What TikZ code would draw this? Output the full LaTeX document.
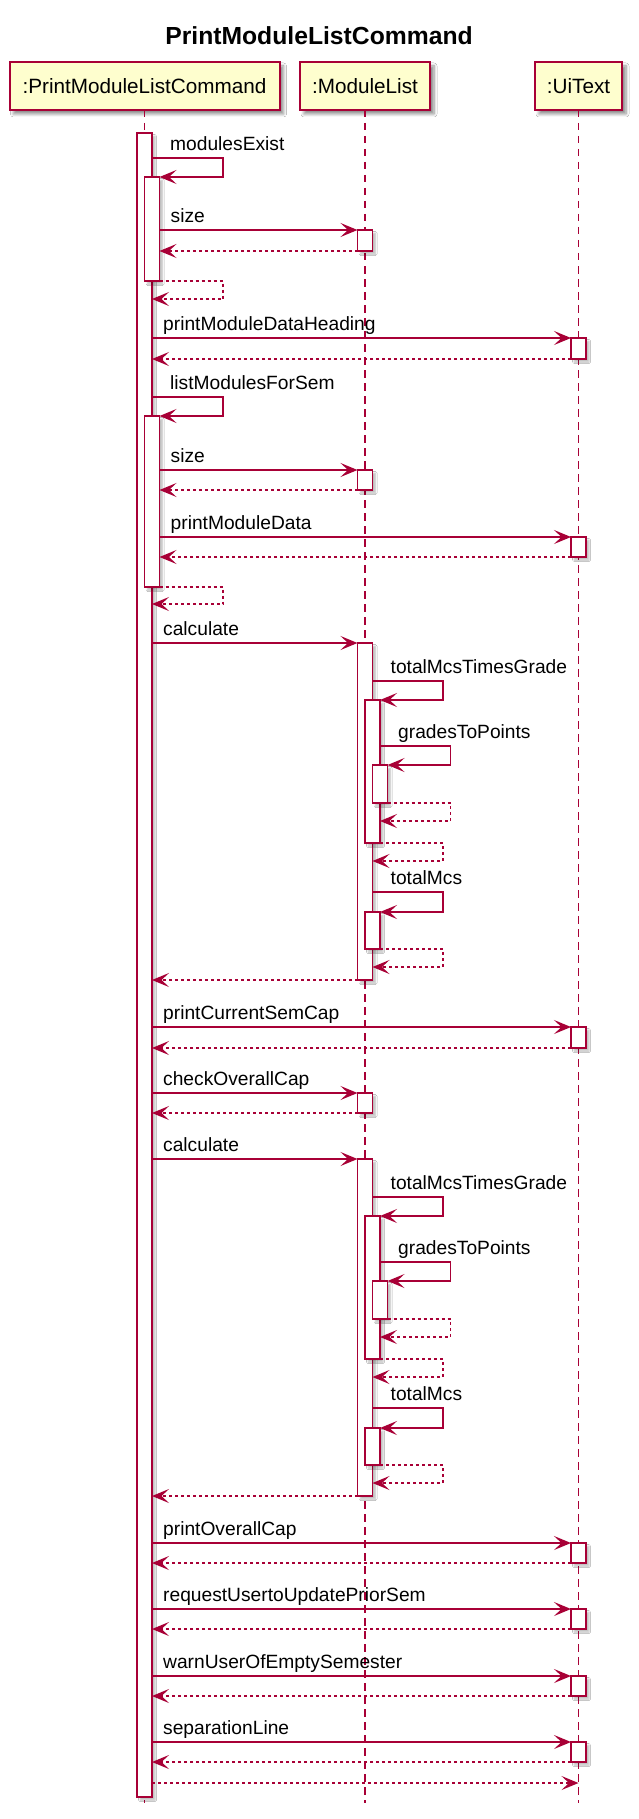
\documentclass[tikz,border=0pt]{standalone}
\usepackage{fontspec}
\setmainfont{Liberation Sans}
\usetikzlibrary{arrows.meta,shadows.blur}
\definecolor{puml}{HTML}{A80036}
\definecolor{pfill}{HTML}{FEFECE}
\tikzset{
  msgfont/.style={font=\fontsize{19.2}{23}\selectfont},
  partbox/.style={draw=puml, fill=pfill, line width=2pt, minimum height=48pt, inner sep=0pt, outer sep=0pt,
    font=\fontsize{20.7}{24}\selectfont,
    blur shadow={shadow xshift=4pt, shadow yshift=-4pt, shadow blur radius=3pt, shadow blur steps=6, shadow opacity=45}},
  lifeline/.style={draw=puml, line width=1.2pt, dash pattern=on 7.5pt off 5.5pt},
  actbar/.style={draw=puml, fill=white, line width=1.5pt, minimum width=15pt, inner sep=0pt, outer sep=0pt,
    blur shadow={shadow xshift=3pt, shadow yshift=-3pt, shadow blur radius=1.5pt, shadow blur steps=4, shadow opacity=25}},
  callline/.style={draw=puml, line width=1.5pt, -{Stealth[length=17pt,width=14pt,inset=7.5pt]}},
  retline/.style={callline, dash pattern=on 3pt off 3pt},
  lbl/.style={msgfont, inner sep=0pt, anchor=base west, text=black},
}
\newcommand\mkbar[4]{\node[actbar, minimum height={#4-#3}, anchor=north] (#1) at (#2,#3) {};}
\newcommand\callmsg[5]{%
  \coordinate (#1a) at (#3,#2); \coordinate (#1b) at (#4,#2);
  \draw[callline] (#1a) -- (#1b);
  \node[lbl] (#1l) at (#3+11,#2-7.5) {#5};}
\newcommand\retmsg[4]{%
  \coordinate (#1a) at (#3,#2); \coordinate (#1b) at (#4,#2);
  \draw[retline] (#1a) -- (#1b);}
\newcommand\selfmsg[7]{%
  \coordinate (#1a) at (#4,#2); \coordinate (#1c) at (#5,#2);
  \coordinate (#1d) at (#5,#3); \coordinate (#1b) at (#6,#3);
  \draw[callline] (#1a) -- (#1c) -- (#1d) -- (#1b);
  \node[lbl] (#1l) at (#4+18,#2-7.5) {#7};}
\newcommand\selfret[6]{%
  \coordinate (#1a) at (#4,#2); \coordinate (#1c) at (#5,#2);
  \coordinate (#1d) at (#5,#3); \coordinate (#1b) at (#6,#3);
  \draw[retline] (#1a) -- (#1c) -- (#1d) -- (#1b);}
\begin{document}
\begin{tikzpicture}[x=1pt,y=-1pt]
\fill[white] (0,0) rectangle (639,1819);
\useasboundingbox (0,0) rectangle (639,1819);

\node[font=\bfseries\fontsize{24.7}{29}\selectfont, anchor=base, inner sep=0pt] (title) at (319,45) {PrintModuleListCommand};

\node[partbox, minimum width=270pt] (p1) at (144.5,86) {:PrintModuleListCommand};
\node[partbox, minimum width=130pt] (p2) at (365,86) {:ModuleList};
\node[partbox, minimum width=87pt] (p3) at (578.5,86) {:UiText};

\coordinate (l1end) at (144.5,1803);
\coordinate (l2end) at (365,1803);
\coordinate (l3end) at (578.5,1803);
\draw[lifeline] (p1.south) -- (l1end);
\draw[lifeline] (p2.south) -- (l2end);
\draw[lifeline] (p3.south) -- (l3end);

\mkbar{b1}{144.5}{133}{1797}
\mkbar{b1n1}{152}{177}{281}
\mkbar{b2a}{365}{230}{251}
\mkbar{b3a}{578.5}{338}{359}
\mkbar{b1n2}{152}{416}{587}
\mkbar{b2b}{365}{470}{490}
\mkbar{b3b}{578.5}{537}{557}
\mkbar{b2c}{365}{643}{980}
\mkbar{b2c1}{372.5}{700}{843}
\mkbar{b2c2}{380}{765}{803}
\mkbar{b2c3}{372.5}{912}{949}
\mkbar{b3c}{578.5}{1027}{1048}
\mkbar{b2d}{365}{1093}{1113}
\mkbar{b2e}{365}{1159}{1496}
\mkbar{b2e1}{372.5}{1216}{1359}
\mkbar{b2e2}{380}{1281}{1319}
\mkbar{b2e3}{372.5}{1428}{1465}
\mkbar{b3d}{578.5}{1543}{1563}
\mkbar{b3e}{578.5}{1609}{1629}
\mkbar{b3f}{578.5}{1676}{1696}
\mkbar{b3g}{578.5}{1742}{1762}

\selfmsg{m1}{158}{177}{152}{223}{159.5}{modulesExist}
\callmsg{m2}{230}{159.5}{357.5}{size}
\retmsg{m3}{251}{357.5}{159.5}
\selfret{m4}{281}{299}{159.5}{223}{152}
\callmsg{m5}{338}{152}{571}{printModuleDataHeading}
\retmsg{m6}{359}{571}{152}
\selfmsg{m7}{397}{416}{152}{223}{159.5}{listModulesForSem}
\callmsg{m8}{470}{159.5}{357.5}{size}
\retmsg{m9}{490}{357.5}{159.5}
\callmsg{m10}{537}{159.5}{571}{printModuleData}
\retmsg{m11}{557}{571}{159.5}
\selfret{m12}{587}{604}{159.5}{223}{152}
\callmsg{m13}{643}{152}{357.5}{calculate}
\selfmsg{m14}{681}{700}{372.5}{443}{380}{totalMcsTimesGrade}
\selfmsg{m15}{746}{765}{380}{450.5}{387.5}{gradesToPoints}
\selfret{m16}{803}{821}{387.5}{450.5}{380}
\selfret{m17}{843}{861}{380}{443}{372.5}
\selfmsg{m18}{892}{912}{372.5}{443}{380}{totalMcs}
\selfret{m19}{949}{967}{380}{443}{372.5}
\retmsg{m20}{980}{357.5}{152}
\callmsg{m21}{1027}{152}{571}{printCurrentSemCap}
\retmsg{m22}{1048}{571}{152}
\callmsg{m23}{1093}{152}{357.5}{checkOverallCap}
\retmsg{m24}{1113}{357.5}{152}
\callmsg{m25}{1159}{152}{357.5}{calculate}
\selfmsg{m26}{1197}{1216}{372.5}{443}{380}{totalMcsTimesGrade}
\selfmsg{m27}{1262}{1281}{380}{450.5}{387.5}{gradesToPoints}
\selfret{m28}{1319}{1337}{387.5}{450.5}{380}
\selfret{m29}{1359}{1377}{380}{443}{372.5}
\selfmsg{m30}{1408}{1428}{372.5}{443}{380}{totalMcs}
\selfret{m31}{1465}{1483}{380}{443}{372.5}
\retmsg{m32}{1496}{357.5}{152}
\callmsg{m33}{1543}{152}{571}{printOverallCap}
\retmsg{m34}{1563}{571}{152}
\callmsg{m35}{1609}{152}{571}{requestUsertoUpdatePriorSem}
\retmsg{m36}{1629}{571}{152}
\callmsg{m37}{1676}{152}{571}{warnUserOfEmptySemester}
\retmsg{m38}{1696}{571}{152}
\callmsg{m39}{1742}{152}{571}{separationLine}
\retmsg{m40}{1762}{571}{152}
\retmsg{m41}{1783}{152}{578.5}
\end{tikzpicture}
\end{document}
